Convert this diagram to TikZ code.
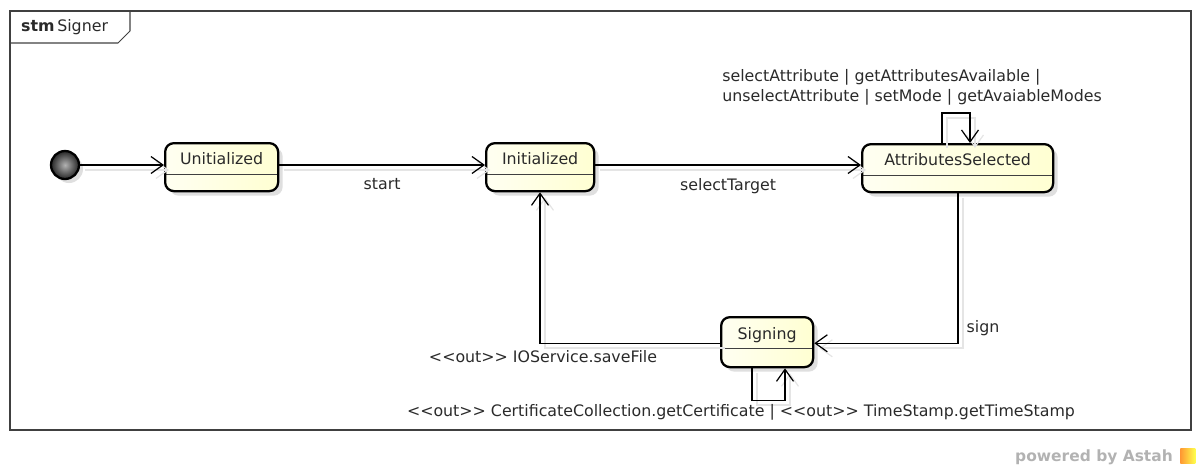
\documentclass[tikz,border=0pt]{standalone}
\usepackage{fontspec}
\setmainfont{DejaVu Sans}
\usepackage{tikz}
\usetikzlibrary{arrows.meta, calc, positioning, shadows}
\definecolor{statefill}{HTML}{FFFFD2}
\definecolor{textgray}{HTML}{2A2A2A}
\tikzstyle{state} = [rectangle, rounded corners=5pt, line width=1.3pt, draw=black, left color=white!70!statefill, right color=statefill, minimum height=0.96cm, anchor=north west, text height=0.3cm, text depth=0.4cm, text=textgray, drop shadow={shadow xshift=0.09cm, shadow yshift=-0.09cm, fill=black!18, opacity=0.7}, path picture={\draw[black!75, line width=0.5pt] ([yshift=-0.62cm]path picture bounding box.north west) -- ([yshift=-0.62cm]path picture bounding box.north east);}]
\tikzstyle{arrow} = [line width=0.7pt, -{Straight Barb[length=2.4mm, width=3.4mm, line width=0.7pt]}, preaction={draw=black!10, line width=1pt, transform canvas={shift={(0.1,-0.1)}}}]
\tikzstyle{lbl} = [text=textgray, inner sep=0pt]
\newcommand{\outmark}{<\kern0pt<out>\kern0pt>}

\begin{document}
\begin{tikzpicture}[font=\fontsize{9}{11.4}\selectfont]
		\useasboundingbox (0,0) rectangle (24.02,-9.32);
		% frame and name tab
		\draw [black!75, line width=0.6pt] (0.2,-0.22) rectangle (23.82,-8.6);
		\draw [black!75, line width=0.6pt] (0.2,-0.86) -- (2.36,-0.86) -- (2.6,-0.62) -- (2.6,-0.22);
		\node (Title) [anchor=west, text=textgray] at (0.3,-0.55) {\textbf{stm}\,Signer};
		% states
		\node (Start) [circle, draw=black, line width=1.3pt, minimum size=0.56cm, inner color=black!30, outer color=black!85, drop shadow={shadow xshift=0.08cm, shadow yshift=-0.08cm, fill=black!18, opacity=0.7}] at (1.3,-3.3) {};
		\node (Unitialized) [state, minimum width=2.26cm] at (3.28,-2.84) {Unitialized};
		\node (Initialized) [state, minimum width=2.16cm] at (9.7,-2.84) {Initialized};
		\node (AttrSel) [state, minimum width=3.82cm] at (17.22,-2.86) {AttributesSelected};
		\node (Signing) [state, minimum width=1.84cm, minimum height=1cm] at (14.4,-6.32) {Signing};
		% bends of the connectors
		\coordinate (AttrLoopL) at ($(AttrSel.north west)+(1.62,0.6)$);
		\coordinate (AttrLoopR) at ($(AttrSel.north west)+(2.18,0.6)$);
		\coordinate (SignBend) at ($(AttrSel.south west)+(1.94,-3.0)$);
		\coordinate (SaveBend) at ($(Initialized.south west)+(1.1,-3.02)$);
		\coordinate (SignLoopL) at ($(Signing.south west)+(0.64,-0.64)$);
		\coordinate (SignLoopR) at ($(Signing.south west)+(1.3,-0.64)$);
		% transitions
		\draw [arrow] (Start) -- (Start -| Unitialized.west);
		\draw [arrow] (Unitialized.east |- Start) -- node[lbl, below=0.25cm]{start} (Initialized.west |- Start);
		\draw [arrow] (Initialized.east |- Start) -- node[lbl, below=0.25cm]{selectTarget} (AttrSel.west |- Start);
		\draw [arrow] (AttrLoopL |- AttrSel.north) -- (AttrLoopL) -- (AttrLoopR) -- (AttrLoopR |- AttrSel.north);
		\draw [arrow] (SignBend |- AttrSel.south) -- (SignBend) -- (Signing.east |- SignBend);
		\draw [arrow] (Signing.west |- SaveBend) -- (SaveBend) -- (SaveBend |- Initialized.south);
		\draw [arrow] (SignLoopL |- Signing.south) -- (SignLoopL) -- (SignLoopR) -- (SignLoopR |- Signing.south);
		% transition labels
		\node (AttrLabel) [lbl, anchor=west, align=left] at (14.44,-1.74) {selectAttribute | getAttributesAvailable |\\unselectAttribute | setMode | getAvaiableModes};
		\node (SignLabel) [lbl] at (19.66,-6.56) {sign};
		\node (SaveLabel) [lbl] at (10.86,-7.14) {\outmark{} IOService.saveFile};
		\node (CertLabel) [lbl] at (14.82,-8.24) {\outmark{} CertificateCollection.getCertificate | \outmark{} TimeStamp.getTimeStamp};
		% footer
		\node (Powered) [anchor=east, text=black!30, font=\fontsize{8.8}{11}\selectfont\bfseries] at (23.58,-9.14) {powered by Astah};
		\node (Logo) [anchor=west, minimum size=0.3cm, inner sep=0pt, left color=orange!80, right color=yellow!70] at (23.6,-9.12) {};
	\end{tikzpicture}
\end{document}
